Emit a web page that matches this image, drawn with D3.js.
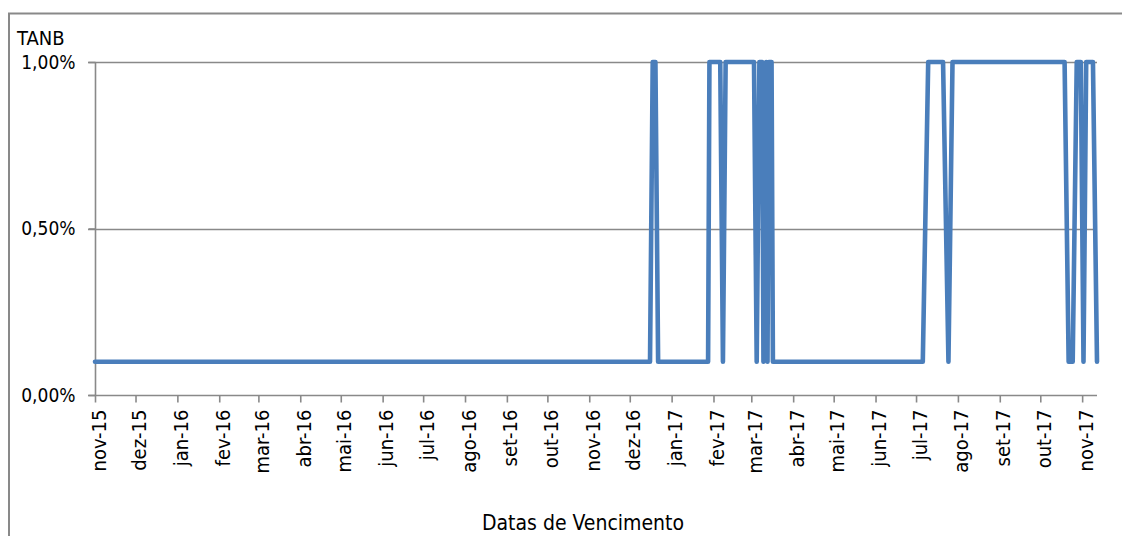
<!DOCTYPE html>
<html>
<head>
<meta charset="utf-8">
<script src="https://cdn.jsdelivr.net/npm/d3@7"></script>
<style>
  html, body { margin: 0; padding: 0; background: #fff; }
  svg { display: block; }
  text { font-family: "DejaVu Sans Condensed", "DejaVu Sans", sans-serif; fill: #000; }
</style>
</head>
<body>
<svg id="chart" width="1122" height="536"></svg>
<script>
// ---- data ----
const dates = [
  "2015-11-01", "2016-12-16", "2016-12-18", "2016-12-20", "2016-12-22",
  "2017-01-28", "2017-01-29", "2017-02-06", "2017-02-08", "2017-02-10",
  "2017-03-03", "2017-03-05", "2017-03-07", "2017-03-09", "2017-03-10",
  "2017-03-12", "2017-03-13", "2017-03-14", "2017-03-16", "2017-03-17",
  "2017-07-06", "2017-07-10", "2017-07-21", "2017-07-25", "2017-07-28",
  "2017-10-19", "2017-10-22", "2017-10-25", "2017-10-28", "2017-10-31",
  "2017-11-02", "2017-11-04", "2017-11-09", "2017-11-12"
];
const tanb = [
  0.10, 0.10, 1.00, 1.00, 0.10,
  0.10, 1.00, 1.00, 0.10, 1.00,
  1.00, 0.10, 1.00, 1.00, 0.10,
  1.00, 0.10, 1.00, 1.00, 0.10,
  0.10, 1.00, 1.00, 0.10, 1.00,
  1.00, 0.10, 0.10, 1.00, 1.00,
  0.10, 1.00, 1.00, 0.10
];
const monthTicks = [
  "2015-11-01","2015-12-01","2016-01-01","2016-02-01","2016-03-01","2016-04-01",
  "2016-05-01","2016-06-01","2016-07-01","2016-08-01","2016-09-01","2016-10-01",
  "2016-11-01","2016-12-01","2017-01-01","2017-02-01","2017-03-01","2017-04-01",
  "2017-05-01","2017-06-01","2017-07-01","2017-08-01","2017-09-01","2017-10-01",
  "2017-11-01"
];
const monthLabels = [
  "nov-15","dez-15","jan-16","fev-16","mar-16","abr-16",
  "mai-16","jun-16","jul-16","ago-16","set-16","out-16",
  "nov-16","dez-16","jan-17","fev-17","mar-17","abr-17",
  "mai-17","jun-17","jul-17","ago-17","set-17","out-17",
  "nov-17"
];
const yTicks = [0, 0.5, 1.0];
const yTitle = "TANB";
const xTitle = "Datas de Vencimento";

// ---- chart ----
const svg = d3.select("#chart");
const parse = d3.utcParse("%Y-%m-%d");
const points = dates.map((d, i) => ({ date: parse(d), v: tanb[i] }));

const x = d3.scaleUtc()
  .domain([parse("2015-11-01"), parse("2017-11-12")])
  .range([95, 1097]);
const y = d3.scaleLinear().domain([0, 1]).range([395, 62]);

const pt = d3.formatLocale({ decimal: ",", thousands: ".", grouping: [3], currency: ["", "€"] });
const fmtPct = v => pt.format(".2f")(v) + "%";

const grey = "#898989";

// outer frame
svg.append("rect")
  .attr("x", 9).attr("y", 13.5).attr("width", 1300).attr("height", 700)
  .attr("fill", "none").attr("stroke", grey).attr("stroke-width", 2);

// gridlines (with left tick stubs)
svg.append("g").selectAll("line").data(yTicks.filter(t => t > 0)).join("line")
  .attr("x1", 88).attr("x2", 1097)
  .attr("y1", d => Math.round(y(d)) + 0.5).attr("y2", d => Math.round(y(d)) + 0.5)
  .attr("stroke", grey).attr("stroke-width", 1.6);

// y axis
const yAxis = svg.append("g").attr("transform", "translate(95.5,0)")
  .call(d3.axisLeft(y).tickValues(yTicks).tickSize(7).tickPadding(13).tickFormat(fmtPct));
yAxis.select(".domain").attr("stroke", grey).attr("stroke-width", 1.6).attr("d", `M0,${y(1)}V${y(0)}`);
yAxis.selectAll(".tick line").attr("stroke", grey).attr("stroke-width", 1.6);
yAxis.selectAll(".tick text").attr("font-size", 19).attr("fill", "#000")
  .attr("font-family", '"DejaVu Sans Condensed", "DejaVu Sans", sans-serif');

// x axis
const xAxis = svg.append("g").attr("transform", "translate(0,395.5)")
  .call(d3.axisBottom(x).tickValues(monthTicks.map(parse)).tickSize(7)
    .tickFormat((d, i) => monthLabels[i]));
xAxis.select(".domain").attr("stroke", grey).attr("stroke-width", 1.6).attr("d", `M88,0H1097`);
xAxis.selectAll(".tick line").attr("stroke", grey).attr("stroke-width", 1.6);
xAxis.selectAll(".tick text")
  .attr("font-size", 20).attr("fill", "#000")
  .attr("font-family", '"DejaVu Sans Condensed", "DejaVu Sans", sans-serif')
  .attr("text-anchor", "end")
  .attr("transform", "translate(0,14) rotate(-90)")
  .attr("x", 0).attr("y", 0).attr("dy", 10);

// line
svg.append("path").datum(points)
  .attr("fill", "none").attr("stroke", "#4a7ebb").attr("stroke-width", 4.6)
  .attr("stroke-linejoin", "round").attr("stroke-linecap", "round")
  .attr("d", d3.line().x(d => x(d.date)).y(d => y(d.v)));

// titles
svg.append("text").attr("x", 17).attr("y", 45).attr("font-size", 20).text(yTitle);
svg.append("text").attr("x", 583).attr("y", 530).attr("text-anchor", "middle")
  .attr("font-size", 21).text(xTitle);
</script>
</body>
</html>
